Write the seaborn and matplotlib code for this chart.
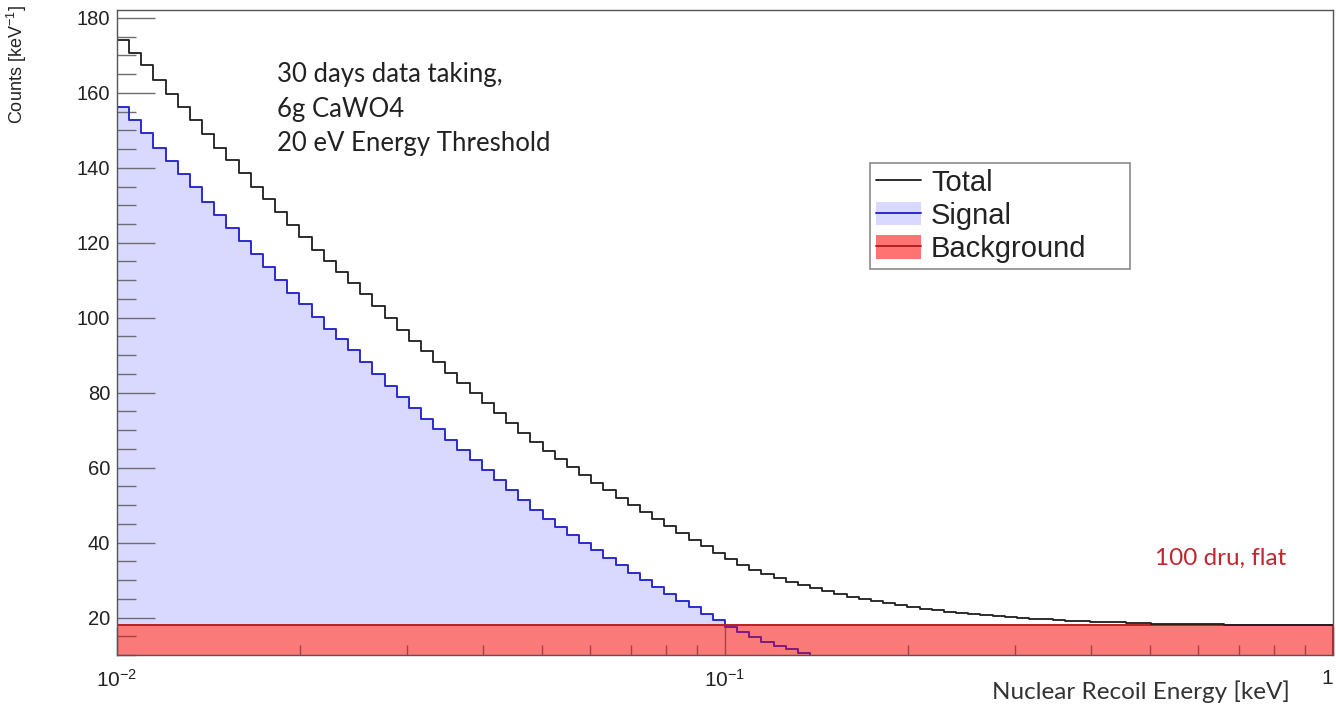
import numpy as np
import pandas as pd
import matplotlib
matplotlib.use("Agg")
import matplotlib.pyplot as plt
from matplotlib.lines import Line2D
from matplotlib.patches import Patch
from matplotlib.ticker import FixedLocator, LogLocator, MultipleLocator, NullFormatter
import seaborn as sns

# Binning: 100 log-spaced bins from 10^-2 to 10^0 keV (edges in log10 units)
log_range = (-2.0, 0.0)
n_bins = 100

# Expected signal counts per keV in each energy bin
signal_counts = [
    156.1, 152.7, 149.4, 145.4, 141.8, 138.3, 134.8, 131.0, 127.4, 124.0,
    120.5, 117.0, 113.6, 110.1, 106.7, 103.6, 100.1, 97.1, 94.2, 91.3,
    88.2, 85.1, 81.9, 78.8, 75.8, 73.0, 70.2, 67.3, 64.6, 61.9,
    59.3, 56.6, 53.9, 51.3, 48.7, 46.4, 44.2, 42.1, 40.0, 38.0,
    36.0, 34.0, 32.0, 30.1, 28.2, 26.3, 24.5, 22.7, 21.0, 19.3,
    17.6, 16.1, 14.8, 13.6, 12.5, 11.5, 10.6, 9.8, 9.0, 8.3,
    7.6, 7.0, 6.4, 5.9, 5.4, 4.9, 4.4, 4.0, 3.6, 3.2,
    2.9, 2.6, 2.3, 2.1, 1.9, 1.7, 1.5, 1.3, 1.1, 1.0,
    0.9, 0.8, 0.7, 0.6, 0.5, 0.4, 0.35, 0.3, 0.25, 0.2,
    0.16, 0.13, 0.1, 0.08, 0.06, 0.05, 0.04, 0.03, 0.02, 0.01,
]

# Flat background: 100 dru x 6 g x 30 days = 18 counts / keV
background_level = 18.0

legend_labels = ["Total", "Signal", "Background"]
info_lines = ["30 days data taking,", "6g CaWO4", "20 eV Energy Threshold"]
bkg_note = "100 dru, flat"

edges = np.logspace(log_range[0], log_range[1], n_bins + 1)
centers = np.sqrt(edges[:-1] * edges[1:])
signal = np.asarray(signal_counts)
background = np.full(n_bins, background_level)
df = pd.DataFrame({
    "energy": centers,
    "signal": signal,
    "background": background,
    "total": signal + background,
})

sns.set_style("white")
plt.rcParams["font.family"] = ["Liberation Sans", "DejaVu Sans"]
plt.rcParams["mathtext.default"] = "regular"

fig = plt.figure(figsize=(13.36, 7.12), dpi=100)
ax = fig.add_axes([117 / 1336, 57 / 712, 1216 / 1336, 645 / 712])

sig_fill = (217 / 255, 217 / 255, 1.0)
sig_line = "#2b2bd0"
bkg_base = (247 / 255, 203 / 255, 203 / 255)   # opaque under-layer of the band
bkg_tint = (1.0, 0.0, 0.0, 0.40)               # translucent red on top
bkg_line = "#b82020"
tot_line = "#1e1e1e"

hist_kws = dict(x="energy", bins=n_bins, binrange=log_range, log_scale=True,
                element="step", ax=ax)

# signal area, background band, signal outline, band tint + outline, total
sns.histplot(data=df, weights="signal", fill=True, facecolor=sig_fill,
             edgecolor="none", linewidth=0, zorder=1, **hist_kws)
sns.histplot(data=df, weights="background", fill=True, facecolor=bkg_base,
             edgecolor="none", linewidth=0, zorder=2, **hist_kws)
sns.histplot(data=df, weights="signal", fill=False, color=sig_line,
             linewidth=1.4, zorder=3, **hist_kws)
sns.histplot(data=df, weights="background", fill=True, facecolor=bkg_tint,
             edgecolor=bkg_line, linewidth=1.4, zorder=4, **hist_kws)
sns.histplot(data=df, weights="total", fill=False, color=tot_line,
             linewidth=1.3, zorder=5, **hist_kws)

ax.set_xlim(0.01, 1.0)
ax.set_ylim(10, 182.1)

ax.xaxis.set_major_locator(FixedLocator([0.01, 0.1, 1.0]))
ax.set_xticklabels([r"$10^{-2}$", r"$10^{-1}$", "1"])
ax.get_xticklabels()[-1].set_horizontalalignment("right")
ax.xaxis.set_minor_locator(LogLocator(base=10, subs=np.arange(2, 10)))
ax.xaxis.set_minor_formatter(NullFormatter())
ax.yaxis.set_major_locator(MultipleLocator(20))
ax.yaxis.set_minor_locator(MultipleLocator(5))
ax.set_axisbelow(False)

tick_col = "#6e6e6e"
ax.tick_params(axis="both", which="both", left=True, bottom=True,
               top=False, right=False, direction="in", width=1.0,
               color=tick_col)
ax.tick_params(axis="y", which="major", length=27, labelsize=14.5, pad=5,
               labelcolor="#222222")
ax.tick_params(axis="y", which="minor", length=14)
ax.tick_params(axis="x", which="major", length=20, labelsize=15, pad=10,
               labelcolor="#222222")
ax.tick_params(axis="x", which="minor", length=7)
for s in ax.spines.values():
    s.set_color("#555555")
    s.set_linewidth(1.0)
    s.set_visible(True)
    s.set_zorder(6)

ax.set_ylabel(r"Counts [keV$^{-1}$]", loc="top", fontsize=13, color="#222222")
ax.yaxis.set_label_coords(-0.072, 1.008)
ax.set_xlabel("Nuclear Recoil Energy [keV]", loc="right", fontsize=17.5,
              family=["Lato", "DejaVu Sans"], color="#333333")
ax.xaxis.set_label_coords(0.9647, -0.040)

ax.text(0.1316, 0.919, "\n".join(info_lines), transform=ax.transAxes,
        ha="left", va="top", fontsize=18.5, linespacing=1.47,
        family=["Lato", "DejaVu Sans"], color="#222222")
ax.text(0.8536, 0.150, bkg_note, transform=ax.transAxes, ha="left",
        va="center", fontsize=17.5, family=["Lato", "DejaVu Sans"],
        color="#c0262d")

handles = [
    Line2D([], [], color=tot_line, lw=1.3),
    (Patch(facecolor=sig_fill, edgecolor="none"), Line2D([], [], color=sig_line, lw=1.4)),
    (Patch(facecolor=(1.0, 0.45, 0.45), edgecolor="none"), Line2D([], [], color=bkg_line, lw=1.4)),
]
leg_w = 260 / 1216
leg_h = 114 / 645
leg = ax.legend(handles, legend_labels, loc="upper left", mode="expand",
                bbox_to_anchor=(0.619, 0.763 - leg_h, leg_w, leg_h),
                fontsize=21, frameon=True,
                fancybox=False, edgecolor="#8a8a8a", framealpha=1,
                borderaxespad=0, borderpad=0.2, labelspacing=0.18,
                handlelength=1.55, handleheight=0.85, handletextpad=0.35)
leg.get_frame().set_linewidth(1.2)
leg.set_zorder(7)
for t in leg.get_texts():
    t.set_color("#222222")

fig.savefig("out.png", dpi=100)
